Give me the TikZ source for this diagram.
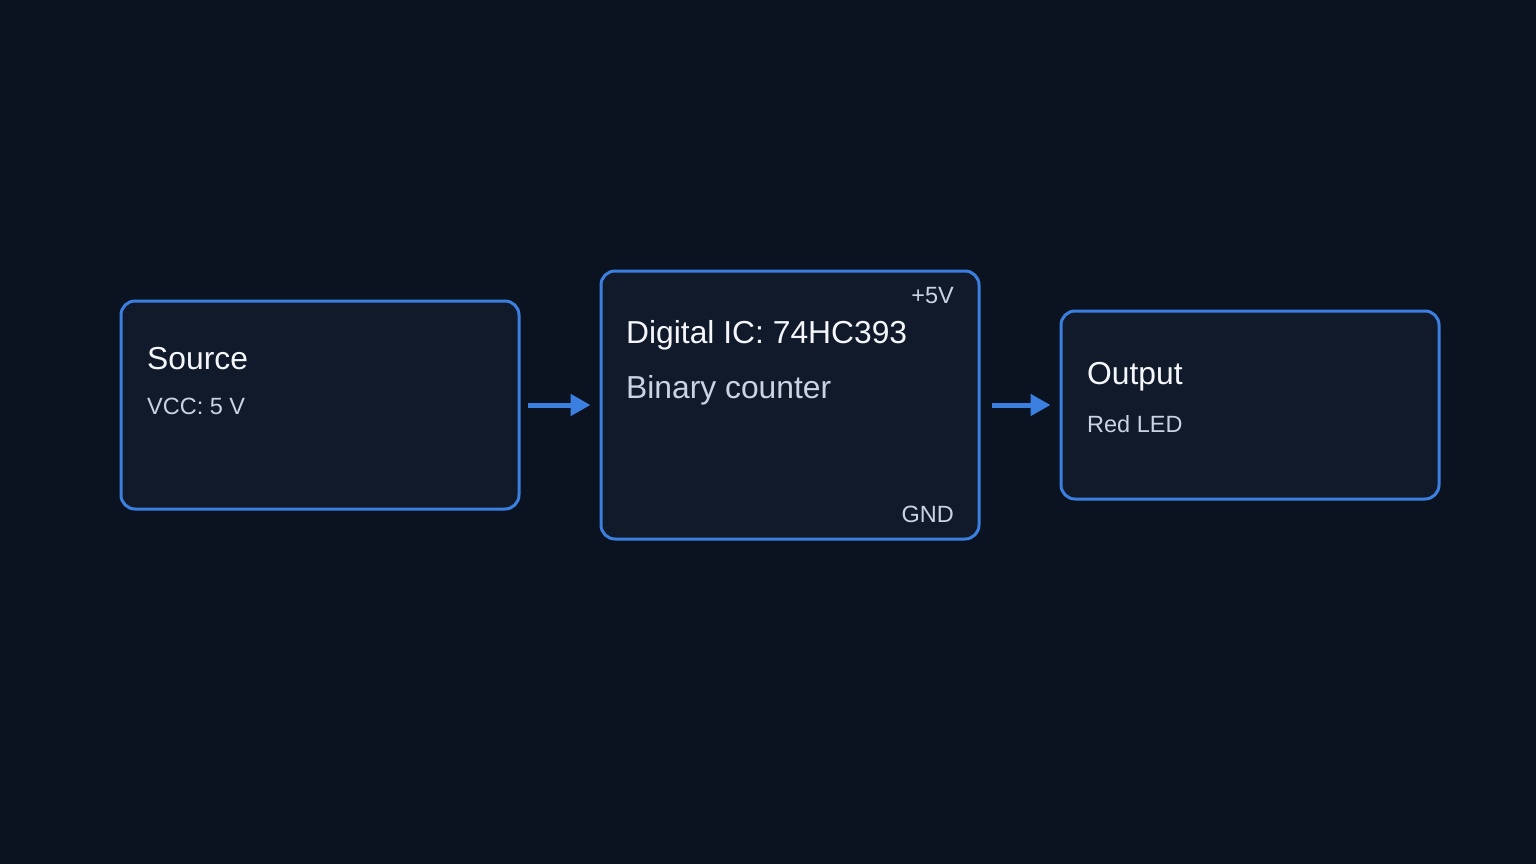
\documentclass[tikz,border=0pt]{standalone}
\usepackage{fontspec}
\setmainfont{Liberation Sans}
\usetikzlibrary{arrows.meta}
\definecolor{bgcol}{HTML}{0B1320}
\definecolor{boxfill}{HTML}{111A2B}
\definecolor{edgeblue}{HTML}{3B7FE0}
\definecolor{titlecol}{HTML}{F4F6FA}
\definecolor{subcol}{HTML}{C9D3E2}
\tikzset{
  box/.style={draw=edgeblue, fill=boxfill, line width=3pt, rounded corners=14pt, inner sep=0pt},
  title/.style={anchor=base west, inner sep=0pt, text=titlecol, font=\fontsize{31.8}{36}\selectfont},
  sub/.style={anchor=base west, inner sep=0pt, text=subcol, font=\fontsize{23.5}{28}\selectfont},
  pin/.style={anchor=base east, inner sep=0pt, text=subcol, font=\fontsize{23.5}{28}\selectfont},
  flow/.style={draw=edgeblue, line width=5pt, -{Triangle[length=20pt,width=21pt]}}
}
\begin{document}
\begin{tikzpicture}[x=1pt, y=-1pt]
  % Background
  \fill[bgcol] (0,0) rectangle (1536,864);
  \useasboundingbox (0,0) rectangle (1536,864);

  % Blocks
  \node[box, minimum width=398pt, minimum height=208pt] (src) at (320,405) {};
  \node[box, minimum width=378pt, minimum height=268pt] (ic) at (790,405) {};
  \node[box, minimum width=378pt, minimum height=188pt] (out) at (1250,405) {};

  % Source text
  \node[title] (srcname) at (147,369) {Source};
  \node[sub] (srcval) at (147,414) {VCC: 5 V};

  % IC text
  \node[title] (icname) at (626,343) {Digital IC: 74HC393};
  \node[title, text=subcol] (icval) at (626,398) {Binary counter};
  \node[pin] (vpin) at (954,303) {+5V};
  \node[pin] (gpin) at (954,522) {GND};

  % Output text
  \node[title] (outname) at (1087,384) {Output};
  \node[sub] (outval) at (1087,432) {Red LED};

  % Signal flow
  \draw[flow, shorten <=7pt, shorten >=9pt] (src.east) -- (ic.west);
  \draw[flow, shorten <=11pt, shorten >=9pt] (ic.east) -- (out.west);
\end{tikzpicture}
\end{document}
